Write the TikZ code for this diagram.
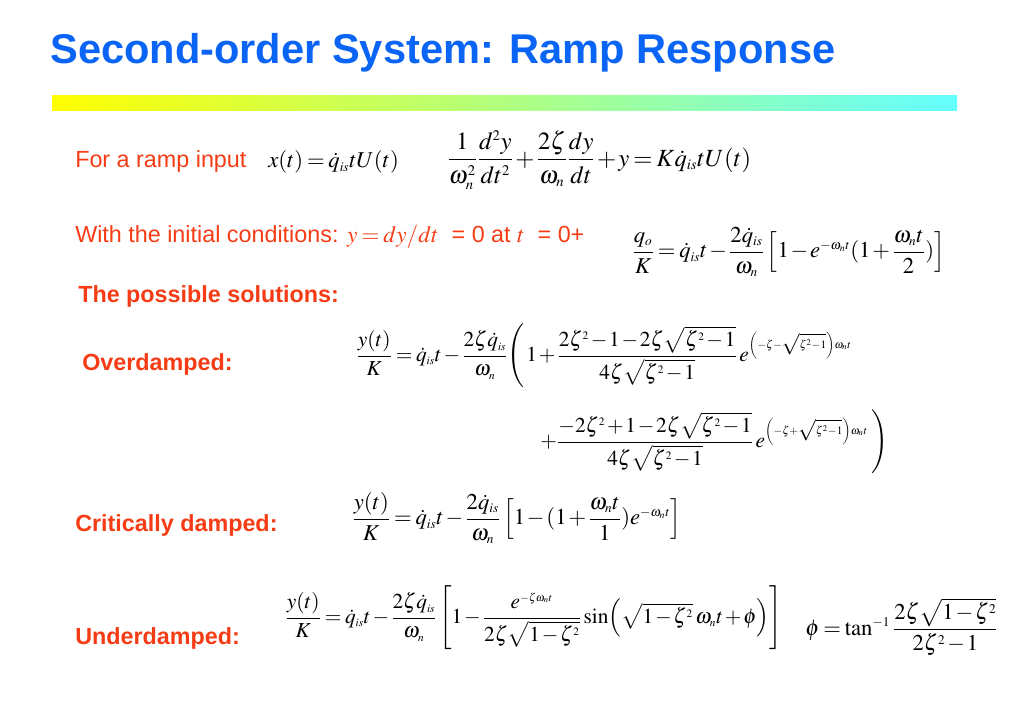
\documentclass[tikz,border=0pt]{standalone}
\usepackage{amsmath}
\usepackage{mathptmx}
\usepackage[no-math]{fontspec}
\setmainfont{Liberation Sans}
\usepackage{tikz}
\usetikzlibrary{calc}
\DeclareMathSizes{18.5}{18.5}{11}{8}
\DeclareMathSizes{17}{17}{10}{7.5}
\DeclareMathSizes{16}{16}{8.5}{6.5}
\thickmuskip=3mu plus 2mu
\medmuskip=1.5mu plus 1mu
\definecolor{titleblue}{RGB}{10,100,245}
\definecolor{slidered}{RGB}{245,60,20}
\definecolor{baryellow}{RGB}{255,255,0}
\definecolor{barcyan}{RGB}{100,255,255}
\newcommand{\ovfrac}{\vphantom{\dfrac{2\zeta^2}{4\zeta\sqrt{\zeta^2-1}}}}
\tikzset{
  ttl/.style={anchor=base west, inner sep=0pt, text=titleblue, font=\fontsize{31.2}{36}\selectfont\bfseries},
  txt/.style={anchor=base west, inner sep=0pt, text=slidered, font=\fontsize{17.5}{21}\selectfont},
  hdr/.style={txt, font=\fontsize{17.5}{21}\selectfont\bfseries},
  eqn/.style={anchor=west, inner sep=0pt, font=\fontsize{17}{21}\selectfont},
  eqsmall/.style={eqn, font=\fontsize{16}{20}\selectfont}
}

\begin{document}
\begin{tikzpicture}[x=0.75pt,y=-0.75pt]
    \useasboundingbox (0,0) rectangle (1023,708);
    \node[ttl] (title) at (50,63) {Second-order System: Ramp Response};
    \shade[left color=baryellow, right color=barcyan] (52,95) rectangle (957,110);
    \node[txt] (ramp) at (75,167) {For a ramp input};
    \node[eqn] (input) at (268,162) {$x(t)=\dot{q}_{is}tU(t)$};
    \node[eqn, font=\fontsize{18.5}{22}\selectfont] (ode) at (447,160) {$\dfrac{1}{\omega_n^2}\dfrac{d^2y}{dt^2}+\dfrac{2\zeta}{\omega_n}\dfrac{dy}{dt}+y=K\dot{q}_{is}tU(t)$};
    \node[txt] (init) at (75,242) {With the initial conditions: $y = dy/dt$\ \ = 0 at $t$\ \ = 0+};
    \node[eqn] (ramps) at (632,252) {$\dfrac{q_o}{K}=\dot{q}_{is}t-\dfrac{2\dot{q}_{is}}{\omega_n}\left[1-e^{-\omega_nt}(1+\dfrac{\omega_nt}{2})\right]$};
    \node[hdr] (sol) at (78,302) {The possible solutions:};
    \node[hdr] (over) at (82,370) {Overdamped:};
    \node[eqsmall] (overa) at (356,356) {$\dfrac{y(t)}{K}=\dot{q}_{is}t-\dfrac{2\zeta\dot{q}_{is}}{\omega_n}\mathopen{\left(\ovfrac\right.}1+\dfrac{2\zeta^2-1-2\zeta\sqrt{\zeta^2-1}}{4\zeta\sqrt{\zeta^2-1}}\,e^{\left(-\zeta-\sqrt{\zeta^2-1}\right)\omega_nt}$};
    \node[eqsmall] (overb) at (540,442) {$+\dfrac{-2\zeta^2+1-2\zeta\sqrt{\zeta^2-1}}{4\zeta\sqrt{\zeta^2-1}}\,e^{\left(-\zeta+\sqrt{\zeta^2-1}\right)\omega_nt}\,\mathclose{\left.\ovfrac\right)}$};
    \node[hdr] (crit) at (75,531) {Critically damped:};
    \node[eqn] (crita) at (352,518) {$\dfrac{y(t)}{K}=\dot{q}_{is}t-\dfrac{2\dot{q}_{is}}{\omega_n}\left[1-(1+\dfrac{\omega_nt}{1})e^{-\omega_nt}\right]$};
    \node[hdr] (under) at (75,644) {Underdamped:};
    \node[eqsmall] (undera) at (285,618) {$\dfrac{y(t)}{K}=\dot{q}_{is}t-\dfrac{2\zeta\dot{q}_{is}}{\omega_n}\left[1-\dfrac{e^{-\zeta\omega_nt}}{2\zeta\sqrt{1-\zeta^2}}\sin\!\left(\sqrt{1-\zeta^2}\,\omega_nt+\phi\right)\right]$};
    \node[eqn] (phase) at (805,627) {$\phi=\tan^{-1}\dfrac{2\zeta\sqrt{1-\zeta^2}}{2\zeta^2-1}$};
\end{tikzpicture}
\end{document}
